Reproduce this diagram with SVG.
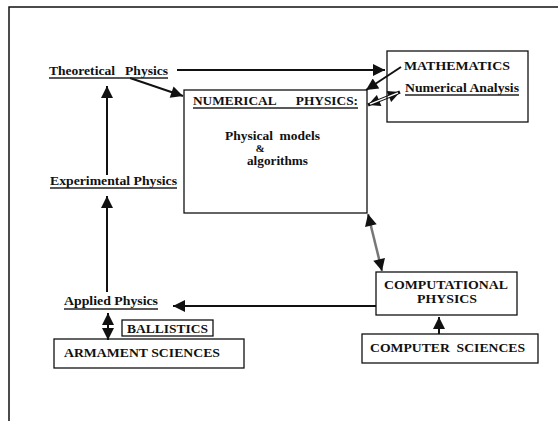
<svg xmlns="http://www.w3.org/2000/svg" width="558" height="421" viewBox="0 0 558 421">
<style>
text{font-family:"Liberation Serif","Times New Roman",serif;font-weight:bold;fill:#111;white-space:pre;}
.s13{font-size:13px;}
.s12{font-size:12.5px;}
.box{fill:none;stroke:#111;stroke-width:1.3;}
.ul{stroke:#222;stroke-width:1.6;}
.ln{fill:none;stroke:#111;stroke-width:2;}
</style>
<defs>
<marker id="ahb" viewBox="0 0 10 10" refX="10" refY="5" markerWidth="14" markerHeight="12" orient="auto-start-reverse" markerUnits="userSpaceOnUse">
<path d="M0,0 L10,5 L0,10 z" fill="#111"/>
</marker>
</defs>
<rect width="558" height="421" fill="#fff"/>
<path d="M9,421 L9,7 L558,7" fill="none" stroke="#111" stroke-width="1.5"/>

<g id="connectors">
<line class="ln" x1="177" y1="70" x2="385" y2="70" marker-end="url(#ahb)"/>
<line class="ln" x1="130" y1="78" x2="183" y2="96" marker-end="url(#ahb)"/>
<line class="ln" x1="401" y1="67" x2="366" y2="90" marker-end="url(#ahb)"/>
<line x1="368" y1="105" x2="400" y2="92" stroke="#111" stroke-width="3.5" marker-start="url(#ahb)" marker-end="url(#ahb)"/>
<line x1="370" y1="104.2" x2="398" y2="92.8" stroke="#fff" stroke-width="1.3"/>
<line class="ln" x1="107" y1="175" x2="107" y2="86" marker-end="url(#ahb)"/>
<line class="ln" x1="107" y1="292" x2="107" y2="196" marker-end="url(#ahb)"/>
<line class="ln" x1="376" y1="306" x2="173" y2="306" marker-end="url(#ahb)"/>
<line class="ln" x1="108" y1="313" x2="108" y2="340" marker-start="url(#ahb)" marker-end="url(#ahb)"/>
<line x1="368" y1="214" x2="382" y2="271" stroke="#777" stroke-width="2.5" marker-start="url(#ahb)" marker-end="url(#ahb)"/>
<line class="ln" x1="439" y1="334" x2="439" y2="317" marker-end="url(#ahb)"/>
</g>

<g id="theoretical">
<text class="s13" x="49" y="75" textLength="119" lengthAdjust="spacingAndGlyphs">Theoretical   Physics</text>
<line class="ul" x1="49" y1="78" x2="168" y2="78"/>
</g>

<g id="mathematics">
<rect class="box" x="387" y="51" width="141" height="71"/>
<text class="s13" x="404" y="70" textLength="106" lengthAdjust="spacingAndGlyphs">MATHEMATICS</text>
<text class="s12" x="405" y="92" textLength="114" lengthAdjust="spacingAndGlyphs">Numerical Analysis</text>
<line class="ul" x1="405" y1="95" x2="519" y2="95"/>
</g>

<g id="numerical">
<rect class="box" x="184" y="90" width="183" height="123"/>
<text class="s12" x="193" y="105" textLength="165" lengthAdjust="spacingAndGlyphs">NUMERICAL      PHYSICS:</text>
<line class="ul" x1="193" y1="108" x2="358" y2="108"/>
<text class="s12" x="225" y="140" textLength="95" lengthAdjust="spacingAndGlyphs">Physical  models</text>
<text style="font-size:11px" x="260" y="152" text-anchor="middle">&amp;</text>
<text class="s12" x="247" y="165" textLength="61" lengthAdjust="spacingAndGlyphs">algorithms</text>
</g>

<g id="experimental">
<text class="s12" x="50" y="185" textLength="127" lengthAdjust="spacingAndGlyphs">Experimental Physics</text>
<line class="ul" x1="50" y1="188" x2="177" y2="188"/>
</g>

<g id="applied">
<text class="s12" x="64" y="305" textLength="94" lengthAdjust="spacingAndGlyphs">Applied Physics</text>
<line class="ul" x1="64" y1="309" x2="158" y2="309"/>
</g>

<g id="ballistics">
<rect class="box" x="122" y="320" width="91" height="16"/>
<text class="s12" x="127" y="333" textLength="81" lengthAdjust="spacingAndGlyphs">BALLISTICS</text>
</g>

<g id="armament">
<rect class="box" x="54" y="339" width="190" height="29"/>
<text class="s12" x="64" y="357" textLength="156" lengthAdjust="spacingAndGlyphs">ARMAMENT SCIENCES</text>
</g>

<g id="computational">
<rect class="box" x="376" y="272" width="141" height="43"/>
<text class="s12" x="384" y="289" textLength="124" lengthAdjust="spacingAndGlyphs">COMPUTATIONAL</text>
<text class="s12" x="417" y="303" textLength="60" lengthAdjust="spacingAndGlyphs">PHYSICS</text>
</g>

<g id="computer">
<rect class="box" x="362" y="334" width="176" height="29"/>
<text class="s12" x="370" y="352" textLength="155" lengthAdjust="spacingAndGlyphs">COMPUTER  SCIENCES</text>
</g>
</svg>
